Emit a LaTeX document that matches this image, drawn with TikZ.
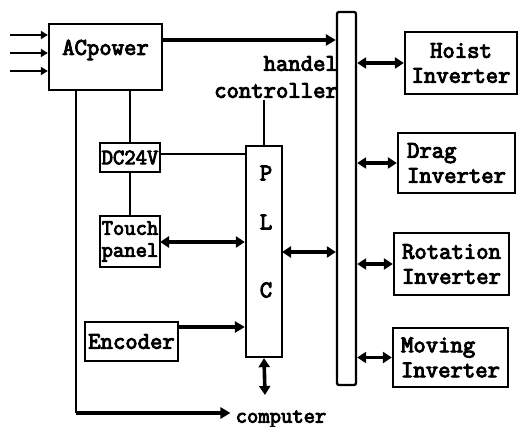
\documentclass[tikz,border=0pt]{standalone}
\usepackage{fontspec}
\newfontfamily\labfont{Latin Modern Mono}[FakeBold=4]
\usetikzlibrary{arrows.meta,calc}
\begin{document}
\begin{tikzpicture}[x=1pt,y=-1pt,
  box/.style={draw,line width=2.3pt,inner sep=0pt,font=\labfont\fontsize{24}{25}\selectfont,align=center},
  txt/.style={inner sep=0pt,font=\labfont\fontsize{24}{27}\selectfont},
  ar/.style={line width=3.2pt,-{Triangle[length=10pt,width=11pt]}},
  thinar/.style={line width=2.2pt,-{Triangle[length=7pt,width=8pt]}},
  dar/.style={line width=3.6pt,{Triangle[length=9pt,width=11pt]}-{Triangle[length=9pt,width=11pt]}},
  ln/.style={line width=2.3pt}]
\useasboundingbox (0,0) rectangle (518,427);
% boxes
\node[box,minimum width=113,minimum height=66] (ac) at (105.5,57) {};
\node[txt] (actext) at (105.5,50) {ACpower};
\node[box,minimum width=19,minimum height=373,rounded corners=2pt] (bus) at (346.5,198.5) {};
\node[box,minimum width=112,minimum height=62] (hoist) at (461,63) {Hoist\\Inverter};
\node[box,minimum width=117,minimum height=60,align=left] (drag) at (456.5,163) {Drag\\Inverter};
\node[box,minimum width=115,minimum height=62] (rot) at (451.5,264) {Rotation\\Inverter};
\node[box,minimum width=115,minimum height=59,align=left] (mov) at (450.5,357.5) {Moving\\Inverter};
\node[box,minimum width=36,minimum height=211] (plc) at (264,251.5) {};
\node[txt] (pP) at (266,173) {P};
\node[txt] (pL) at (266,222) {L};
\node[txt] (pC) at (266,290) {C};
\node[box,minimum width=60,minimum height=29,font=\labfont\fontsize{22}{22}\selectfont] (dc) at (130,157.5) {DC24V};
\node[box,minimum width=60,minimum height=51,font=\labfont\fontsize{22}{22}\selectfont] (touch) at (130,241.5) {Touch\\panel};
\node[box,minimum width=93,minimum height=39] (enc) at (131.5,341.5) {Encoder};
\node[txt,align=right,anchor=east] (hc) at (338,77) {handel\\controller};
\node[txt,font=\labfont\fontsize{22}{22}\selectfont] (comp) at (281,419) {computer};
% inputs
\coordinate (in1) at (10,35);
\coordinate (in2) at (10,53);
\coordinate (in3) at (10,71);
\draw[thinar] (in1) -- (in1 -| ac.west);
\draw[thinar] (in2) -- (in2 -| ac.west);
\draw[thinar] (in3) -- (in3 -| ac.west);
% AC to bus
\coordinate (acR) at (162,40);
\draw[ar] (acR) -- (acR -| bus.west);
% bus to inverters
\draw[dar] (bus.east |- hoist.west) -- (hoist.west);
\draw[dar] (bus.east |- drag.west) -- (drag.west);
\draw[dar] (bus.east |- rot.west) -- (rot.west);
\draw[dar] (bus.east |- mov.west) -- (mov.west);
% AC to DC24V
\draw[ln] (dc.north |- ac.south) -- (dc.north);
\draw[ln] (dc.south) -- (touch.north);
\coordinate (dcR) at (160,154);
\draw[ln] (dcR) -- (dcR -| plc.west);
% touch panel to PLC
\coordinate (tR) at (160,242);
\draw[dar] (tR) -- (tR -| plc.west);
% encoder to PLC
\coordinate (eR) at (178,327);
\draw[ar] (eR) -- (eR -| plc.west);
% PLC to bus
\coordinate (pR) at (282,252);
\draw[dar] (pR) -- (pR -| bus.west);
% handel controller to PLC
\draw[ln] (plc.north) -- (plc.north |- 0,100);
% PLC to computer
\coordinate (pB) at (265,395);
\draw[dar] (plc.south) -- (pB);
% left line to computer
\coordinate (acL) at (76,90);
\coordinate (corner) at (76,413);
\draw[ln] (acL) -- (corner);
\draw[ar,shorten >=5pt] (corner) -- (corner -| comp.west);
\end{tikzpicture}
\end{document}
